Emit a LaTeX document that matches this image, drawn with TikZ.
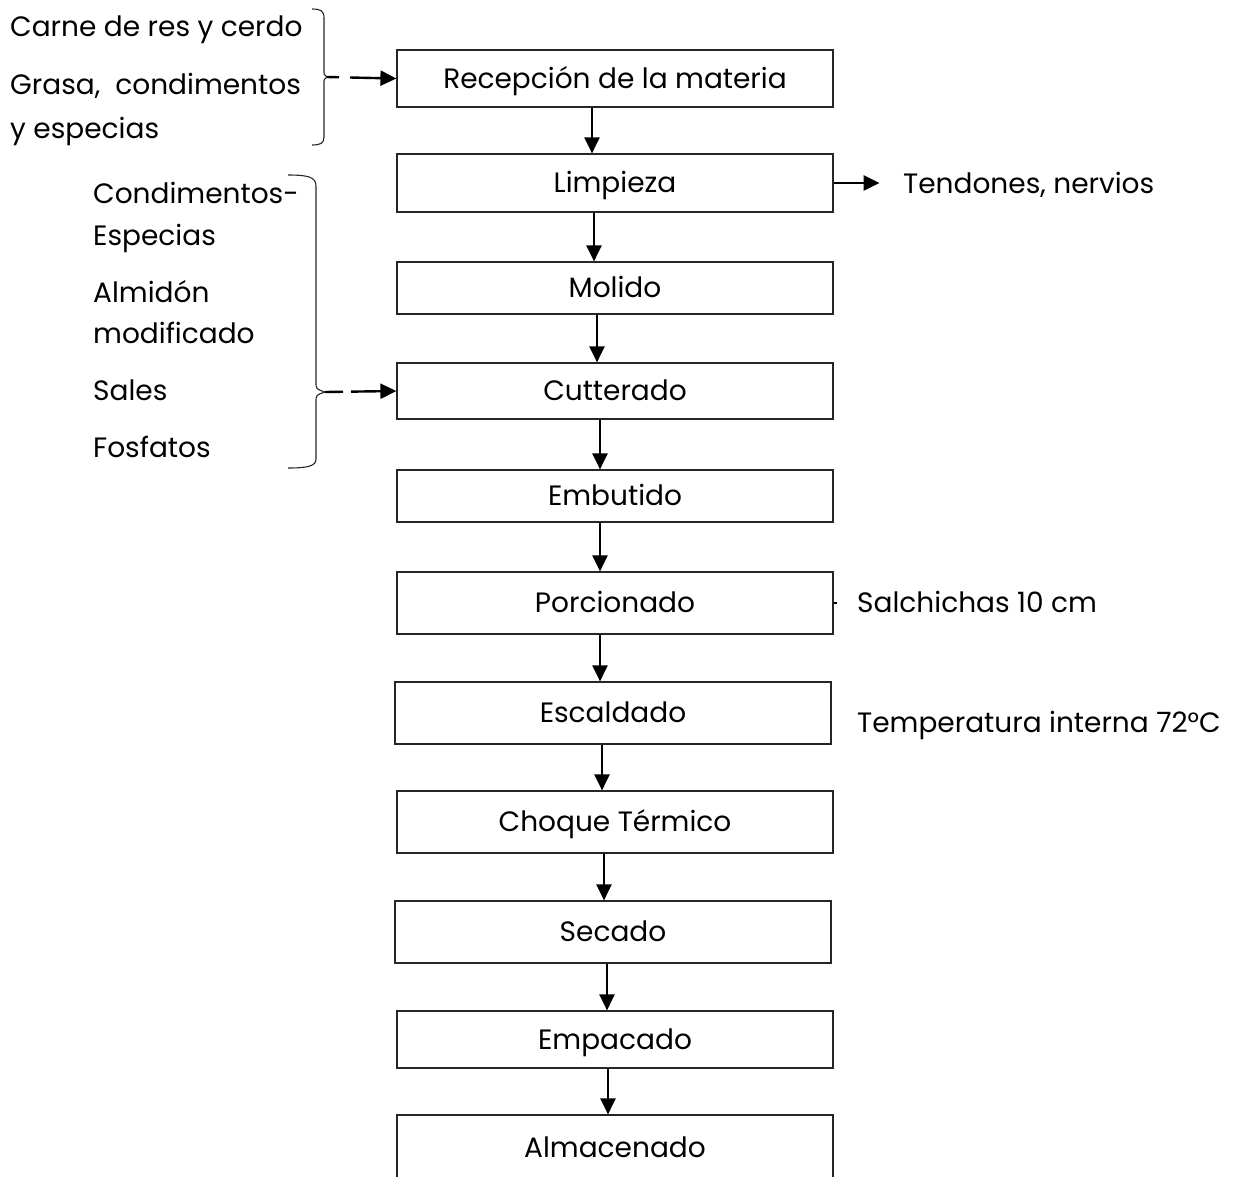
\documentclass[tikz,border=0pt]{standalone}
\usepackage{fontspec}
\setmainfont{Poppins}
\usetikzlibrary{arrows.meta}
\begin{document}
\begin{tikzpicture}[x=1pt,y=-1pt]
	% size of each node
	\def\ancho{436pt}
	\def\letra{\fontsize{28}{32}\selectfont}
	% node style definition
	\tikzstyle{etapa} = [draw=black!85, line width=1.2pt, rectangle, minimum width=\ancho, inner sep=0pt, text height=21pt, text depth=2pt, font=\letra];
	\tikzstyle{texto} = [anchor=base west, inner sep=0pt, font=\letra];
	\tikzstyle{flecha} = [-{Triangle[length=16pt,width=15pt]}, line width=2.4pt];
	\tikzstyle{llave} = [draw=black!85, line width=1.1pt];
	\useasboundingbox (0,0) rectangle (1234,1176);
	% etapas del proceso
	\node[etapa, minimum height=57pt] (recepcion) at (615,78.5) {Recepción de la materia};
	\node[etapa, minimum height=58pt] (limpieza) at (615,183) {Limpieza};
	\node[etapa, minimum height=52pt] (molido) at (615,288) {Molido};
	\node[etapa, minimum height=56pt] (cutterado) at (615,391) {Cutterado};
	\node[etapa, minimum height=52pt] (embutido) at (615,496) {Embutido};
	\node[etapa, minimum height=62pt] (porcionado) at (615,603) {Porcionado};
	\node[etapa, minimum height=62pt] (escaldado) at (613,713) {Escaldado};
	\node[etapa, minimum height=62pt] (choque) at (615,822) {Choque Térmico};
	\node[etapa, minimum height=62pt] (secado) at (613,932) {Secado};
	\node[etapa, minimum height=57pt] (empacado) at (615,1039.5) {Empacado};
	\node[etapa, minimum height=66pt] (almacenado) at (615,1148) {Almacenado};
	% entradas
	\node[texto] (carne) at (10,36) {Carne de res y cerdo};
	\node[texto] (grasa) at (10,94) {Grasa,\ \ condimentos};
	\node[texto] (especias) at (10,138) {y especias};
	\node[texto] (condimentos) at (93,203) {Condimentos-};
	\node[texto] (especias2) at (93,245) {Especias};
	\node[texto] (almidon) at (93,302) {Almidón};
	\node[texto] (modificado) at (93,343) {modificado};
	\node[texto] (sales) at (93,400) {Sales};
	\node[texto] (fosfatos) at (93,457) {Fosfatos};
	% salidas y notas
	\node[texto] (tendones) at (903,193) {Tendones, nervios};
	\node[texto] (salchichas) at (857,612) {Salchichas 10 cm};
	\node[texto] (temperatura) at (857,732) {Temperatura interna 72°C};
	% llaves
	\draw[llave] (312,9) .. controls (321,9) and (324,11) .. (324,18) -- (324,70)
		.. controls (324,75) .. (327,77) coordinate (puntaA)
		.. controls (324,79) .. (324,84) -- (324,137)
		.. controls (324,143) and (321,145) .. (312,145);
	\draw[llave] (288,175) .. controls (308,175) and (316,177) .. (316,186) -- (316,382)
		.. controls (316,389) .. (325,392) coordinate (puntaB)
		.. controls (316,395) .. (316,402) -- (316,459)
		.. controls (316,466) and (308,468) .. (288,468);
	% flechas
	\draw[flecha, dash pattern={on 12pt off 11pt on 60pt}] (puntaA) -- (recepcion.west);
	\draw[flecha, dash pattern={on 18pt off 8pt on 60pt}] (puntaB) -- (cutterado.west);
	\draw[flecha] (limpieza.east) -- ([xshift=46pt]limpieza.east);
	\draw[line width=1.2pt] (porcionado.east) -- ([xshift=3pt]porcionado.east);
	\draw[flecha] ([xshift=-23pt]recepcion.south) -- ([xshift=-23pt]recepcion.south |- limpieza.north);
	\draw[flecha] ([xshift=-21pt]limpieza.south) -- ([xshift=-21pt]limpieza.south |- molido.north);
	\draw[flecha] ([xshift=-18pt]molido.south) -- ([xshift=-18pt]molido.south |- cutterado.north);
	\draw[flecha] ([xshift=-15pt]cutterado.south) -- ([xshift=-15pt]cutterado.south |- embutido.north);
	\draw[flecha] ([xshift=-15pt]embutido.south) -- ([xshift=-15pt]embutido.south |- porcionado.north);
	\draw[flecha] ([xshift=-15pt]porcionado.south) -- ([xshift=-15pt]porcionado.south |- escaldado.north);
	\draw[flecha] ([xshift=-11pt]escaldado.south) -- ([xshift=-11pt]escaldado.south |- choque.north);
	\draw[flecha] ([xshift=-11pt]choque.south) -- ([xshift=-11pt]choque.south |- secado.north);
	\draw[flecha] ([xshift=-6pt]secado.south) -- ([xshift=-6pt]secado.south |- empacado.north);
	\draw[flecha] ([xshift=-7pt]empacado.south) -- ([xshift=-7pt]empacado.south |- almacenado.north);
\end{tikzpicture}
\end{document}
